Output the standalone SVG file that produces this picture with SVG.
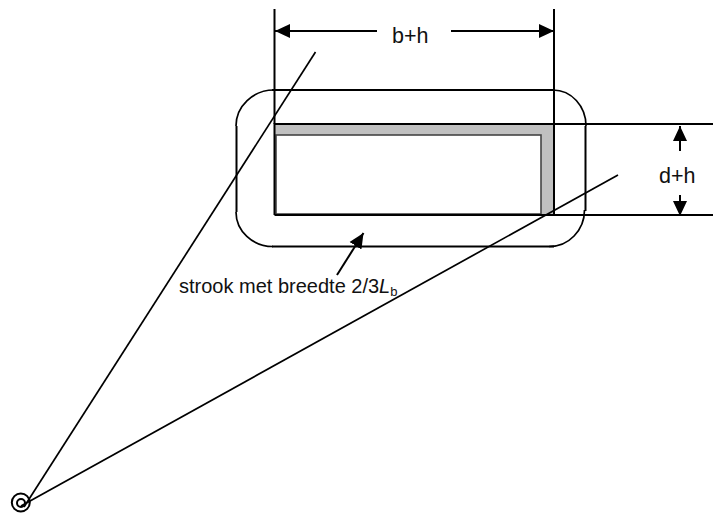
<svg xmlns="http://www.w3.org/2000/svg" width="713" height="516" viewBox="0 0 713 516">
<style>
.l{fill:none;stroke:#000;stroke-width:1.7}
.m{fill:none;stroke:#000;stroke-width:2}
.t{font-family:"Liberation Sans",Arial,sans-serif;font-size:21.500px;fill:#111}
</style>
<defs>
<marker id="a" markerUnits="userSpaceOnUse" markerWidth="16" markerHeight="16" refX="15" refY="8" orient="auto-start-reverse" viewBox="0 0 16 16"><path d="M0 1 L15 8 L0 15Z" fill="#000"/></marker>
</defs>
<rect width="713" height="516" fill="#fff"/>
<g id="band">
<path class="m" d="M272 90 H554 M585.500 126 V211 M236.500 126 V212 M272 246.500 H554"/>
<path class="l" d="M274 90 A38 36 0 0 0 236 126 M553 90 A33 36 0 0 1 586 126 M584.500 210 A35 36.500 0 0 1 549 246.500 M236 212 A37 34.500 0 0 0 273 246.500"/>
</g>
<g id="section">
<rect x="275" y="124" width="279" height="91" fill="#c0c0c0"/>
<rect x="276" y="135" width="265" height="79" fill="#fff" stroke="#444" stroke-width="1.600"/>
<path class="m" d="M274.500 215 V124 H554 V215 H274.500"/>
</g>
<g id="connectors">
<path class="m" d="M274.500 9 V124 M554 9 V124 M554 124 H713 M554 215 H713"/>
<path class="m" marker-start="url(#a)" d="M275 31 H377"/>
<path class="m" marker-end="url(#a)" d="M451 31 H554"/>
<path class="m" marker-end="url(#a)" d="M680 151 V126"/>
<path class="m" marker-end="url(#a)" d="M680 195 V216"/>
<path class="l" d="M315.500 52 L24 507"/>
<path class="l" d="M618 175 L21 506"/>
<path class="m" marker-end="url(#a)" d="M337 275 L363.500 233"/>
</g>
<g id="source">
<circle class="m" cx="20.800" cy="502.500" r="9"/>
<circle class="m" cx="21" cy="503" r="4"/>
</g>
<g id="labels">
<text class="t" x="392" y="43">b+h</text>
<text class="t" x="659" y="182.500">d+h</text>
<text class="t" style="font-size:20px" x="179" y="292.500">strook met breedte 2/3<tspan font-style="italic">L</tspan><tspan font-size="13" dy="3">b</tspan></text>
</g>
</svg>
